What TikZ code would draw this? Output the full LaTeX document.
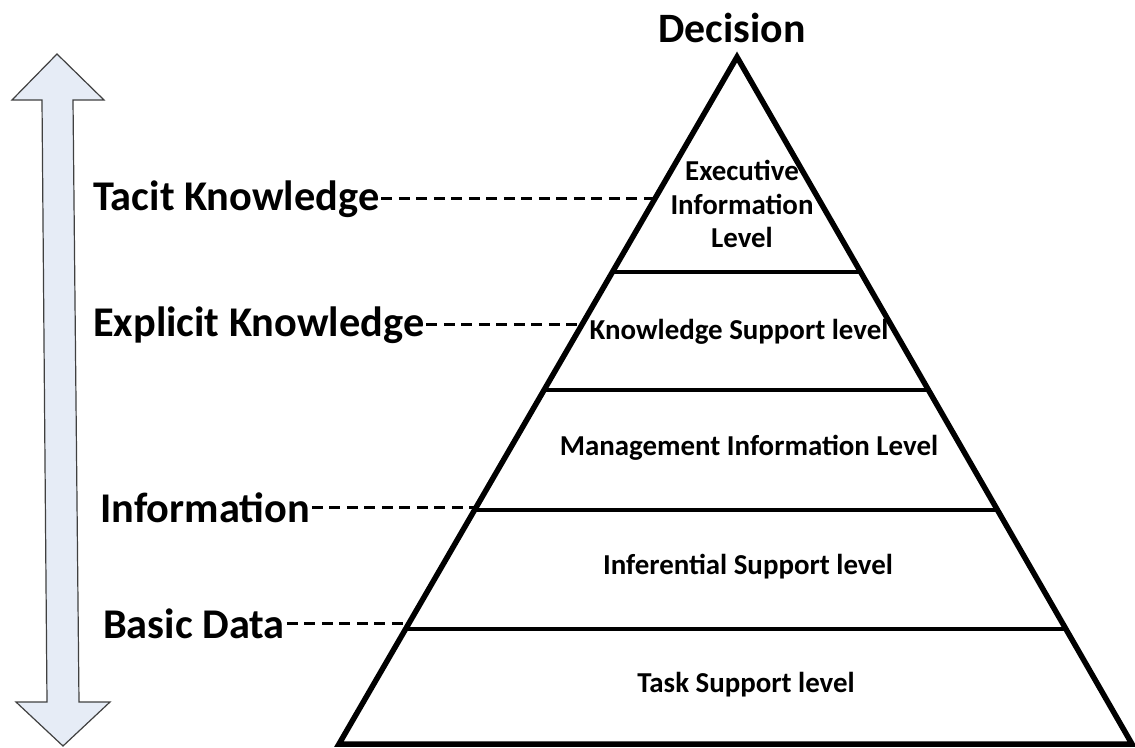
\documentclass[tikz,border=0pt]{standalone}
\usepackage{fontspec}
\setmainfont{Carlito}
\usetikzlibrary{calc}
\definecolor{scalefill}{RGB}{230,236,246}

\begin{document}
\begin{tikzpicture}[%
    x=1bp,
    y=-1bp,
    side/.style={line width=5.5bp, line join=miter},
    level/.style={line width=4bp},
    guide/.style={line width=2.5bp, dash pattern=on 11bp off 6.5bp},
    tier/.style={%
      font=\bfseries\fontsize{29}{34}\selectfont,
      align=center,
      inner sep=0pt
    },
    kind/.style={%
      font=\bfseries\fontsize{42.5}{48}\selectfont,
      anchor=base west,
      inner xsep=2bp,
      inner ysep=0pt
    }
  ]
    \useasboundingbox (0,0) rectangle (1135,748);

    % up/down scale on the left
    \draw[draw=black!75, line width=1.2bp, fill=scalefill]
      (57,54) -- (104,100) -- (73,100) -- (79,702) -- (110,702) -- (63,746)
      -- (16,702) -- (47,702) -- (42,100) -- (12,100) -- cycle;

    % pyramid
    \coordinate (apex) at (737,57);
    \coordinate (bl) at (339,744);
    \coordinate (br) at (1132,744);
    \draw[side] (apex) -- (bl) -- (br) -- cycle;
    \foreach \y/\n in {272/a, 390/b, 510/c, 629/d} {
      \coordinate (l\n) at ($(apex)!{(\y-57)/687}!(bl)$);
      \coordinate (r\n) at ($(apex)!{(\y-57)/687}!(br)$);
      \draw[level] (l\n) -- (r\n);
    }
    \coordinate (tk) at ($(apex)!{(200-57)/687}!(bl)$);
    \coordinate (ek) at ($(apex)!{(326-57)/687}!(bl)$);

    \node[font=\bfseries\fontsize{42}{48}\selectfont, anchor=base, inner sep=0pt]
      (decision) at (732,43) {Decision};

    \node[tier] (exec)  at (742,204) {Executive\\Information\\Level};
    \node[tier] (know)  at (739,332) {Knowledge Support level};
    \node[tier] (mis)   at (749,448) {Management Information Level};
    \node[tier] (infer) at (748,567) {Inferential Support level};
    \node[tier] (task)  at (746,685) {Task Support level};

    \node[kind] (tacit)    at (91,210)  {Tacit Knowledge};
    \node[kind] (explicit) at (91,336)  {Explicit Knowledge};
    \node[kind] (info)     at (98,522)  {Information};
    \node[kind] (basic)    at (101,638) {Basic Data};

    \draw[guide] (tacit.east)    -- (tacit.east -| tk);
    \draw[guide] (explicit.east) -- (explicit.east -| ek);
    \draw[guide] (info.east)     -- (info.east -| lc);
    \draw[guide] (basic.east)    -- (basic.east -| ld);
  \end{tikzpicture}
\end{document}
